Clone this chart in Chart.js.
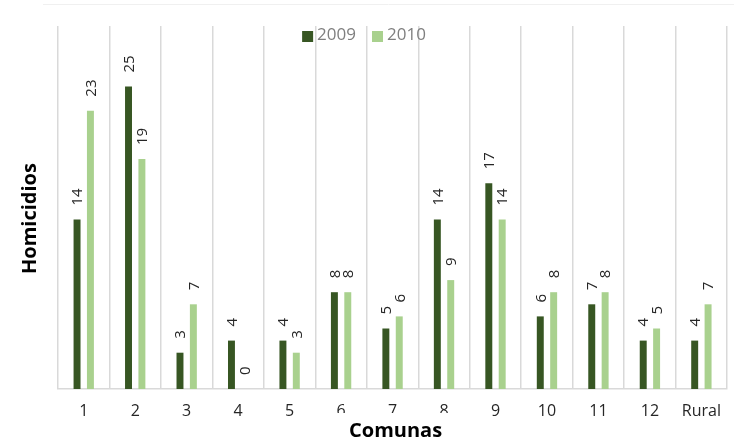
<!DOCTYPE html>
<html>
<head>
<meta charset="utf-8">
<script src="https://cdn.jsdelivr.net/npm/chart.js@4.4.0/dist/chart.umd.min.js"></script>
<style>
  body { margin: 0; background: #fff; }
  #wrap { width: 734px; height: 441px; }
</style>
</head>
<body>
<div id="wrap"><canvas id="chart"></canvas></div>
<script>
var comunas = ['1', '2', '3', '4', '5', '6', '7', '8', '9', '10', '11', '12', 'Rural'];
var homicidios2009 = [14, 25, 3, 4, 4, 8, 5, 14, 17, 6, 7, 4, 4];
var homicidios2010 = [23, 19, 7, 0, 3, 8, 6, 9, 14, 8, 8, 5, 7];
var yearLabels = ['2009', '2010'];
var yMax = 30;

var FONT = '"Open Sans", sans-serif';
var gridColor = '#d9d9d9';

// value labels, rotated, above each bar
var barLabels = {
    id: 'barLabels',
    afterDatasetsDraw(chart) {
        let ctx = chart.ctx;
        ctx.save();
        ctx.font = '15px ' + FONT;
        ctx.fillStyle = '#262626';
        ctx.textAlign = 'left';
        ctx.textBaseline = 'middle';
        chart.data.datasets.forEach((ds, i) => {
            chart.getDatasetMeta(i).data.forEach((bar, j) => {
                ctx.save();
                ctx.translate(bar.x + 1, bar.y - 14);
                ctx.rotate(-Math.PI / 2);
                ctx.fillText(ds.data[j], 0, 0);
                ctx.restore();
            });
        });
        ctx.restore();
    }
};

// legend inside the plot, axis titles, faint top border
var decor = {
    id: 'decor',
    afterDraw(chart) {
        let ctx = chart.ctx, area = chart.chartArea;
        ctx.save();

        ctx.strokeStyle = '#f0f0f0'; ctx.lineWidth = 1;
        ctx.beginPath(); ctx.moveTo(43, 4.5); ctx.lineTo(chart.width, 4.5); ctx.stroke();

        // legend
        ctx.font = '17px ' + FONT;
        ctx.textBaseline = 'middle'; ctx.textAlign = 'left';
        let box = 11, gap = 4, between = 16;
        let items = chart.data.datasets.map(ds => ({ text: ds.label, color: ds.backgroundColor, w: ctx.measureText(ds.label).width }));
        let total = items.reduce((s, it) => s + box + gap + it.w, 0) + between * (items.length - 1);
        let x = chart.width / 2 - 3 - total / 2, y = 35;
        items.forEach(it => {
            ctx.fillStyle = it.color; ctx.fillRect(x, y - 4, box, box);
            ctx.fillStyle = '#7f7f7f'; ctx.fillText(it.text, x + box + gap, y);
            x += box + gap + it.w + between;
        });

        // x title, its white box covers part of the tick labels below it
        ctx.font = 'bold 20px ' + FONT;
        ctx.textAlign = 'center';
        let cx = (area.left + area.right) / 2 + 3;
        ctx.fillStyle = '#fff';
        ctx.fillRect(cx - 66, 413, 132, chart.height - 413);
        ctx.fillStyle = '#000';
        ctx.fillText('Comunas', cx, 431);

        // y title
        ctx.save();
        ctx.translate(30, (area.top + area.bottom) / 2 + 11);
        ctx.rotate(-Math.PI / 2);
        ctx.fillText('Homicidios', 0, 0);
        ctx.restore();

        ctx.restore();
    }
};

new Chart(document.getElementById('chart'), {
    type: 'bar',
    data: {
        labels: comunas,
        datasets: [
            { label: yearLabels[0], data: homicidios2009, backgroundColor: '#375623' },
            { label: yearLabels[1], data: homicidios2010, backgroundColor: '#a9d18e' }
        ]
    },
    options: {
        responsive: true, maintainAspectRatio: false, animation: false,
        layout: { padding: { left: 58, right: 1, top: 26, bottom: 0 } },
        categoryPercentage: 0.52, barPercentage: 0.52,
        plugins: { legend: { display: false }, tooltip: { enabled: false } },
        scales: {
            x: {
                grid: { color: gridColor, lineWidth: 1.5, drawTicks: false, offset: true },
                border: { color: gridColor, width: 1.5 },
                ticks: { color: '#262626', font: { family: FONT, size: 16 }, padding: 13, maxRotation: 0 },
                afterFit: s => { s.height = 52; }
            },
            y: { display: false, min: 0, max: yMax }
        }
    },
    plugins: [barLabels, decor]
});
</script>
</body>
</html>
